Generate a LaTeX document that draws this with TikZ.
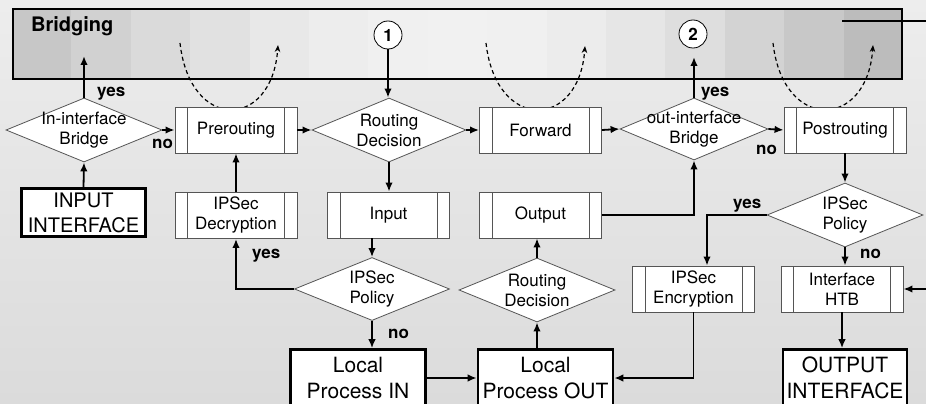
\documentclass[tikz,border=0pt]{standalone}
\usepackage{fontspec}
\setmainfont{TeX Gyre Heros}
\usetikzlibrary{shapes.geometric,arrows.meta,calc}
\newcommand\fsz[2]{\fontsize{#1}{#2}\selectfont}
\definecolor{bgtop}{HTML}{EDEDED}
\definecolor{bgbot}{HTML}{DBDBDB}
\definecolor{brL}{HTML}{C2C2C2}
\definecolor{brM}{HTML}{F1F1F1}
\definecolor{brR}{HTML}{B6B6B6}
\definecolor{edge}{HTML}{555555}
\begin{document}
\begin{tikzpicture}[x=1pt,y=-1pt,
  proc/.style={draw=edge, line width=0.8pt, fill=white, minimum width=122pt,
    minimum height=46pt, inner sep=0pt, align=center, font=\fsz{17}{20},
    path picture={
      \draw[edge, line width=0.8pt]
        ([xshift=12.5pt]path picture bounding box.north west) -- ([xshift=12.5pt]path picture bounding box.south west)
        ([xshift=-12.5pt]path picture bounding box.north east) -- ([xshift=-12.5pt]path picture bounding box.south east);}},
  dia/.style={diamond, draw=edge, line width=0.8pt, fill=white, inner sep=0pt,
    minimum width=156pt, minimum height=64pt},
  dlab/.style={align=center, font=\fsz{17}{20}, inner sep=0pt},
  iface/.style={draw=black, line width=2.6pt, fill=white, inner sep=0pt,
    align=center, font=\fsz{21}{26}},
  num/.style={circle, draw=black, line width=0.8pt, fill=white, minimum size=28pt,
    inner sep=0pt, font=\fsz{17}{20}\bfseries},
  lab/.style={anchor=base west, inner sep=0pt, font=\fsz{17}{20}\bfseries},
  conn/.style={line width=1.8pt, -{Latex[length=9pt,width=7.5pt]}},
  loopa/.style={line width=1.2pt, dash pattern=on 4pt off 3pt, -{Stealth[length=7pt,width=5.5pt]}}
]
\clip (0,0) rectangle (926,404);
\useasboundingbox (0,0) rectangle (926,404);
\fill[top color=bgtop, bottom color=bgbot] (0,0) rectangle (926,404);

% Bridging box: horizontal gradient in bands
\fill[brM!10!brL] (12,8) rectangle (71.9,80);
\fill[brM!31!brL] (71.4,8) rectangle (131.3,80);
\fill[brM!50!brL] (130.8,8) rectangle (190.7,80);
\fill[brM!67!brL] (190.2,8) rectangle (250.1,80);
\fill[brM!81!brL] (249.6,8) rectangle (309.5,80);
\fill[brM!91!brL] (309,8) rectangle (368.9,80);
\fill[brM!98!brL] (368.4,8) rectangle (428.3,80);
\fill[brM] (427.8,8) rectangle (487.7,80);
\fill[brM!98!brR] (487.2,8) rectangle (547.1,80);
\fill[brM!91!brR] (546.6,8) rectangle (606.5,80);
\fill[brM!81!brR] (606,8) rectangle (665.9,80);
\fill[brM!67!brR] (665.4,8) rectangle (725.3,80);
\fill[brM!50!brR] (724.8,8) rectangle (784.7,80);
\fill[brM!31!brR] (784.2,8) rectangle (844.1,80);
\fill[brM!10!brR] (843.6,8) rectangle (903,80);
\node[draw=black, line width=2.2pt, minimum width=889pt, minimum height=70pt, inner sep=0pt] (br) at (457.5,44) {};
\node[anchor=base west, inner sep=0pt, font=\fsz{20}{24}\bfseries] (brt) at (31,32) {Bridging};
\node[num] (c1) at (388,35) {1};
\node[num] (c2) at (693,34) {2};
\coordinate (bt1) at (84,56);
\coordinate (bt2) at (694,57);
\coordinate (rs1) at (842,21);
\coordinate (re1) at (926,21);
\coordinate (re2) at (926,289);

% dashed loops
\draw[loopa] (180,43) .. controls (190,132) and (272,130) .. (278,45);
\draw[loopa] (486,43) .. controls (496,132) and (579,130) .. (585,46);
\draw[loopa] (773,43) .. controls (783,132) and (867,130) .. (873,45);

% row 1
\node[dia, label={[dlab]center:In-interface\\Bridge}] (iib) at (84,130) {};
\node[proc] (pre) at (236,130) {Prerouting};
\node[dia, minimum width=154pt, label={[dlab]center:Routing\\Decision}] (rd1) at (389,130) {};
\node[proc] (fwd) at (540.5,130) {Forward};
\node[dia, minimum width=148pt, minimum height=62pt, label={[dlab]center:out-interface\\Bridge}] (oib) at (694,129) {};
\node[proc] (post) at (845,130) {Postrouting};

% row 2
\node[iface, minimum width=124pt, minimum height=48pt, font=\fsz{20}{25}] (inif) at (83.5,212.5) {INPUT\\INTERFACE};
\node[proc] (dec) at (236,215.5) {IPSec\\Decryption};
\node[proc] (inp) at (388.5,215) {Input};
\node[proc] (outp) at (540.5,215) {Output};
\node[dia, label={[dlab]center:IPSec\\Policy}] (ipp2) at (845,215) {};

% row 3
\node[dia, minimum width=155pt, minimum height=63pt, label={[dlab]center:IPSec\\Policy}] (ipp1) at (372,289) {};
\node[dia, label={[dlab]center:Routing\\Decision}] (rd2) at (537,290) {};
\node[proc] (enc) at (693.5,289) {IPSec\\Encryption};
\node[proc] (htb) at (842,289) {Interface\\HTB};

% row 4
\node[iface, minimum width=135pt, minimum height=57pt] (lpin) at (358,378) {Local\\Process IN};
\node[iface, minimum width=135pt, minimum height=57pt] (lpout) at (545.5,378) {Local\\Process OUT};
\node[iface, minimum width=124pt, minimum height=57pt] (oif) at (845,378) {OUTPUT\\INTERFACE};

% connectors
\draw[conn] (iib.north) -- (bt1);
\draw[conn] (iib.east) -- (pre.west);
\draw[conn] (inif.north) -- (iib.south);
\draw[conn] (dec.north) -- (pre.south);
\draw[conn] (pre.east) -- (rd1.west);
\draw[conn] (c1.south) -- (c1.south |- rd1.north);
\draw[conn] (rd1.east) -- (fwd.west);
\draw[conn] (rd1.south) -- (rd1.south |- inp.north);
\draw[conn] (fwd.east) -- (oib.west);
\draw[conn] (oib.north) -- (bt2);
\draw[conn] (oib.east) -- (post.west);
\draw[conn] (outp.east) -| (oib.south);
\draw[conn] (post.south) -- (post.south |- ipp2.north);
\draw[conn] (ipp2.west) -| ($(enc.north)+(13.5,0)$);
\draw[conn] (ipp2.south) -- (ipp2.south |- htb.north);
\draw[conn] (enc.south) |- (lpout.east);
\draw[conn] (htb.south) -- (htb.south |- oif.north);
\draw[conn] (inp.south -| ipp1.north) -- (ipp1.north);
\draw[conn] (ipp1.west) -| (dec.south);
\draw[conn] (ipp1.south) -- (ipp1.south |- lpin.north);
\draw[conn] (lpin.east) -- (lpout.west);
\draw[conn] (lpout.north -| rd2.south) -- (rd2.south);
\draw[conn] (rd2.north) -- (rd2.north |- outp.south);
\draw[line width=1.8pt] (rs1) -- (re1);
\draw[conn] (re2) -- (htb.east);

% labels
\node[lab] (y1) at (97,96) {yes};
\node[lab] (y2) at (701,96) {yes};
\node[lab] (n1) at (152,148) {no};
\node[lab] (n2) at (756,154) {no};
\node[lab] (y3) at (733,208) {yes};
\node[lab] (n3) at (860,258) {no};
\node[lab] (y4) at (252,258) {yes};
\node[lab] (n4) at (388,338) {no};
\end{tikzpicture}
\end{document}
